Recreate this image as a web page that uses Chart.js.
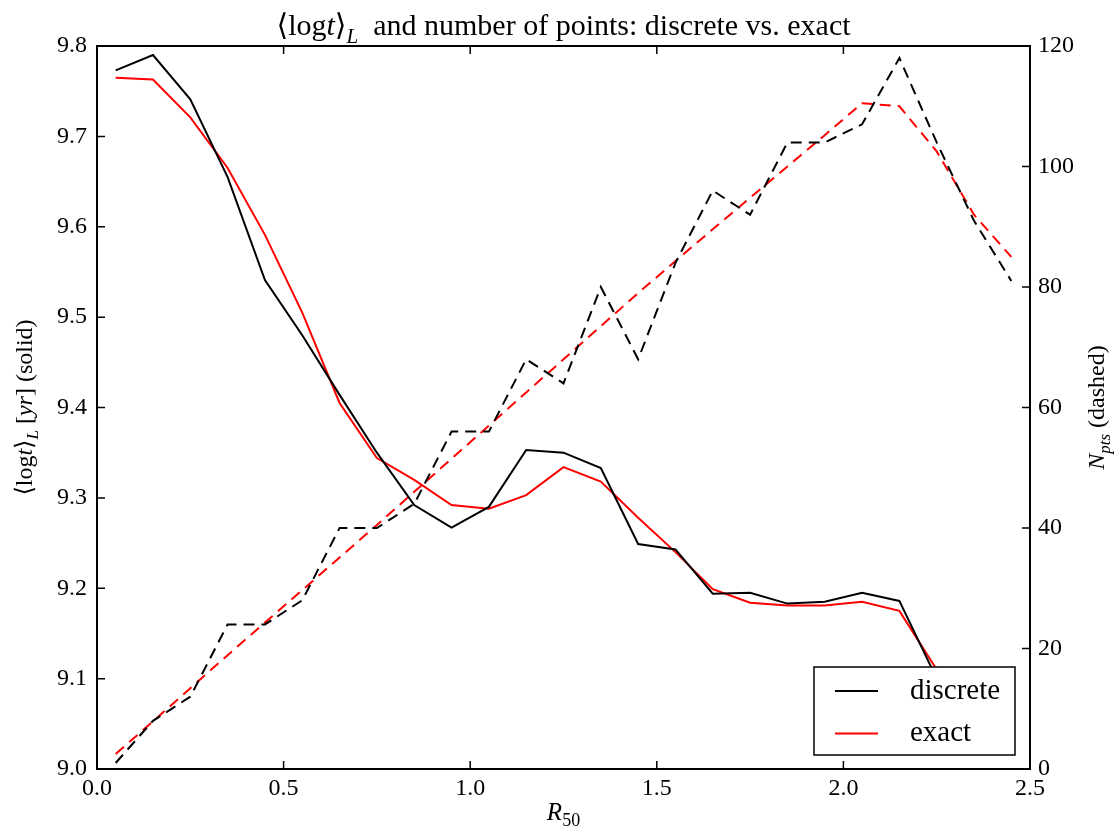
<!DOCTYPE html>
<html>
<head>
<meta charset="utf-8">
<script src="https://cdn.jsdelivr.net/npm/chart.js@4"></script>
<style>
  body { margin: 0; background: #fff; }
  #wrap { width: 1115px; height: 834px; }
</style>
</head>
<body>
<div id="wrap"><canvas id="chart"></canvas></div>
<script>
// R50 bins
const rValues = [0.05, 0.15, 0.25, 0.35, 0.45, 0.55, 0.65, 0.75, 0.85, 0.95, 1.05, 1.15, 1.25,
                 1.35, 1.45, 1.55, 1.65, 1.75, 1.85, 1.95, 2.05, 2.15, 2.25, 2.35, 2.45];

// <log t>_L (solid, left axis)
const discreteAge = [9.773, 9.790, 9.741, 9.655, 9.541, 9.480, 9.414, 9.350, 9.292, 9.267, 9.290, 9.353, 9.350,
                     9.333, 9.249, 9.243, 9.194, 9.195, 9.183, 9.185, 9.195, 9.186, 9.100, 9.070, 9.040];
const exactAge = [9.765, 9.763, 9.721, 9.665, 9.591, 9.505, 9.405, 9.344, 9.320, 9.292, 9.288, 9.303, 9.334,
                  9.318, 9.278, 9.240, 9.199, 9.184, 9.181, 9.181, 9.185, 9.175, 9.110, 9.080, 9.050];

// N_pts (dashed, right axis)
const discreteN = [1, 8, 12, 24, 24, 28, 40, 40, 44, 56, 56, 68, 64,
                   80, 68, 84, 96, 92, 104, 104, 107, 118, 104, 91, 81];
const exactN = [2.5, 7.9, 13.4, 18.9, 24.3, 29.7, 35.1, 40.5, 46, 51.5, 57, 62.5, 68,
                73.5, 79, 84.3, 89.6, 94.8, 100, 105.2, 110.5, 110, 102.5, 92, 85];

// tick values
const xTicks = [0.0, 0.5, 1.0, 1.5, 2.0, 2.5];
const leftTicks = [9.0, 9.1, 9.2, 9.3, 9.4, 9.5, 9.6, 9.7, 9.8];
const rightTicks = [0, 20, 40, 60, 80, 100, 120];

const legendLabels = ['discrete', 'exact'];
const legendColors = ['#000000', '#ff0000'];

const SERIF = '"Liberation Serif", "DejaVu Serif", serif';

const pts = (ys) => rValues.map((x, i) => ({ x: x, y: ys[i] }));

// draw text made of parts (italic, subscript)
function partFont(p, size) {
    const s = p.sub ? Math.round(size * 0.7) : size;
    return (p.italic ? 'italic ' : '') + s + 'px ' + SERIF;
}
function richWidth(ctx, parts, size) {
    let w = 0;
    parts.forEach(p => { ctx.font = partFont(p, size); w += ctx.measureText(p.t).width; });
    return w;
}
function drawRich(ctx, parts, size, cx, y) {
    let x = cx - richWidth(ctx, parts, size) / 2;
    ctx.textBaseline = 'alphabetic';
    ctx.textAlign = 'left';
    parts.forEach(p => {
        ctx.font = partFont(p, size);
        ctx.fillText(p.t, x, y + (p.sub ? size * 0.25 : 0));
        x += ctx.measureText(p.t).width;
    });
}

const decorPlugin = {
    id: 'decor',
    afterDatasetsDraw(chart) {
        const ctx = chart.ctx;
        const a = chart.chartArea;
        const xs = chart.scales.x, yl = chart.scales.y, yr = chart.scales.y2;
        ctx.save();
        ctx.strokeStyle = '#000';
        ctx.lineWidth = 1.5;
        // inward ticks
        ctx.beginPath();
        xTicks.forEach(v => {
            const px = xs.getPixelForValue(v);
            ctx.moveTo(px, a.bottom); ctx.lineTo(px, a.bottom - 8);
            ctx.moveTo(px, a.top); ctx.lineTo(px, a.top + 8);
        });
        leftTicks.forEach(v => {
            const py = yl.getPixelForValue(v);
            ctx.moveTo(a.left, py); ctx.lineTo(a.left + 8, py);
        });
        rightTicks.forEach(v => {
            const py = yr.getPixelForValue(v);
            ctx.moveTo(a.right, py); ctx.lineTo(a.right - 8, py);
        });
        ctx.stroke();
        // frame
        ctx.lineWidth = 2;
        ctx.strokeRect(a.left, a.top, a.right - a.left, a.bottom - a.top);

        // legend box, lower right
        const lx = a.right - 216, ly = a.bottom - 102, lw = 201, lh = 88;
        ctx.fillStyle = '#fff';
        ctx.fillRect(lx, ly, lw, lh);
        ctx.lineWidth = 1.5;
        ctx.strokeRect(lx, ly, lw, lh);
        ctx.font = '29px ' + SERIF;
        ctx.textBaseline = 'middle';
        legendLabels.forEach((lab, i) => {
            const yy = ly + 24 + i * 42.5;
            ctx.strokeStyle = legendColors[i];
            ctx.lineWidth = 2;
            ctx.beginPath();
            ctx.moveTo(lx + 21, yy); ctx.lineTo(lx + 64, yy);
            ctx.stroke();
            ctx.fillStyle = '#000';
            ctx.fillText(lab, lx + 96, yy);
        });

        // titles
        ctx.fillStyle = '#000';
        const cx = (a.left + a.right) / 2, cy = (a.top + a.bottom) / 2;
        drawRich(ctx, [
            { t: '\u27E8log' }, { t: 't', italic: true }, { t: '\u27E9' }, { t: 'L', italic: true, sub: true },
            { t: '  and number of points: discrete vs. exact' }
        ], 30, cx, 35);
        drawRich(ctx, [{ t: 'R', italic: true }, { t: '50', sub: true }], 25, cx, 820);

        ctx.save();
        ctx.translate(32, cy);
        ctx.rotate(-Math.PI / 2);
        drawRich(ctx, [
            { t: '\u27E8log' }, { t: 't', italic: true }, { t: '\u27E9' }, { t: 'L', italic: true, sub: true },
            { t: ' [' }, { t: 'yr', italic: true }, { t: '] (solid)' }
        ], 24, 0, 0);
        ctx.restore();

        ctx.save();
        ctx.translate(1104, cy);
        ctx.rotate(-Math.PI / 2);
        drawRich(ctx, [
            { t: 'N', italic: true }, { t: 'pts', italic: true, sub: true }, { t: ' (dashed)' }
        ], 24, 0, 0);
        ctx.restore();
        ctx.restore();
    }
};

const tickFont = { family: SERIF, size: 24 };

new Chart(document.getElementById('chart'), {
    type: 'line',
    data: {
        datasets: [
            { label: 'discrete', data: pts(discreteAge), yAxisID: 'y', borderColor: '#000', borderWidth: 2 },
            { label: 'exact', data: pts(exactAge), yAxisID: 'y', borderColor: '#ff0000', borderWidth: 2 },
            { label: 'discrete N', data: pts(discreteN), yAxisID: 'y2', borderColor: '#000', borderWidth: 2, borderDash: [11, 7] },
            { label: 'exact N', data: pts(exactN), yAxisID: 'y2', borderColor: '#ff0000', borderWidth: 2, borderDash: [11, 7] }
        ]
    },
    options: {
        responsive: true,
        maintainAspectRatio: false,
        animation: false,
        layout: { padding: { top: 46, left: 0, right: 0, bottom: 0 } },
        elements: { point: { radius: 0 }, line: { tension: 0 } },
        plugins: { legend: { display: false }, tooltip: { enabled: false }, title: { display: false } },
        scales: {
            x: {
                type: 'linear', min: 0, max: 2.5,
                grid: { display: false }, border: { display: false },
                ticks: { stepSize: 0.5, color: '#000', font: tickFont, padding: -3, maxRotation: 0,
                         callback: v => v.toFixed(1) },
                afterFit: s => { s.height = 65; }
            },
            y: {
                position: 'left', min: 9.0, max: 9.8,
                grid: { display: false }, border: { display: false },
                ticks: { stepSize: 0.1, color: '#000', font: tickFont, padding: 2,
                         callback: v => v.toFixed(1) },
                afterFit: s => { s.width = 97; }
            },
            y2: {
                position: 'right', min: 0, max: 120,
                grid: { display: false }, border: { display: false },
                ticks: { stepSize: 20, color: '#000', font: tickFont, padding: 0 },
                afterFit: s => { s.width = 85; }
            }
        }
    },
    plugins: [decorPlugin]
});
</script>
</body>
</html>
